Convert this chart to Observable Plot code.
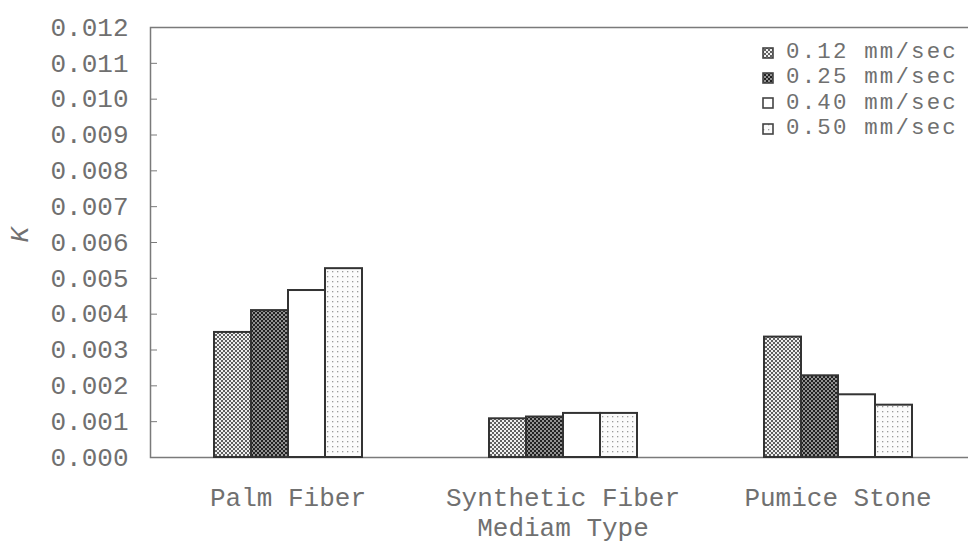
<!DOCTYPE html>
<html><head><meta charset="utf-8">
<script src="https://cdn.jsdelivr.net/npm/d3@7"></script>
<script src="https://cdn.jsdelivr.net/npm/@observablehq/plot@0.6"></script>
<style>
body{margin:0;background:#fff;}
#wrap{position:relative;width:968px;height:545px;overflow:hidden;}
#legend{position:absolute;left:762px;top:40px;font-family:"Liberation Mono",monospace;font-size:22.4px;letter-spacing:2.2px;line-height:25.4px;color:#707070;}
#legend .row{display:flex;align-items:center;height:25.4px;white-space:pre;}
#legend svg{margin-right:12px;}
</style>
</head><body>
<svg width="0" height="0" style="position:absolute">
<defs>
<pattern id="p012" width="4" height="4" patternUnits="userSpaceOnUse">
 <rect width="4" height="4" fill="#f0f0f0"/>
 <rect x="0" y="0" width="2" height="2" fill="#606060"/>
 <rect x="2" y="2" width="2" height="2" fill="#606060"/>
</pattern>
<pattern id="p025" width="4" height="4" patternUnits="userSpaceOnUse">
 <rect width="4" height="4" fill="#929292"/>
 <rect x="0" y="0" width="2" height="2" fill="#222222"/>
 <rect x="2" y="2" width="2" height="2" fill="#222222"/>
</pattern>
<pattern id="p040" width="4" height="4" patternUnits="userSpaceOnUse">
 <rect width="4" height="4" fill="#ffffff"/>
</pattern>
<pattern id="p050" width="5" height="5" patternUnits="userSpaceOnUse">
 <rect width="5" height="5" fill="#fbfbfb"/>
 <rect x="1" y="1" width="1.3" height="1.3" fill="#9a9a9a"/>
</pattern>
</defs>
</svg>
<div id="wrap"><div id="legend"></div></div>
<script>
const categories = ["Palm Fiber", "Synthetic Fiber", "Pumice Stone"];
const speeds = ["0.12 mm/sec", "0.25 mm/sec", "0.40 mm/sec", "0.50 mm/sec"];
const k012 = [0.00349, 0.00108, 0.00336];
const k025 = [0.00410, 0.00113, 0.00228];
const k040 = [0.00466, 0.00123, 0.00175];
const k050 = [0.00527, 0.00123, 0.00146];
const yTicks = [0, 0.001, 0.002, 0.003, 0.004, 0.005, 0.006, 0.007, 0.008, 0.009, 0.010, 0.011, 0.012];
const patterns = ["url(#p012)", "url(#p025)", "url(#p040)", "url(#p050)"];

const series = [k012, k025, k040, k050];
const data = [];
categories.forEach((c, i) => speeds.forEach((s, j) => data.push({cat: c, speed: s, k: series[j][i]})));

const chart = Plot.plot({
  width: 968, height: 545,
  marginLeft: 149, marginRight: -7.5, marginTop: 27, marginBottom: 88,
  style: {fontFamily: "Liberation Mono, monospace", fontSize: "26px", color: "#707070", background: "white"},
  fx: {domain: categories, paddingInner: 0, paddingOuter: 0, label: null},
  x: {domain: speeds, paddingInner: 0, paddingOuter: 1.7, axis: null},
  y: {domain: [0, 0.012], axis: null},
  color: {domain: speeds, range: patterns},
  marks: [
    Plot.frame({facet: "super", stroke: "#7a7a7a", strokeWidth: 1.5}),
    Plot.barY(data, {fx: "cat", x: "speed", y: "k", fill: "speed", stroke: "#333", strokeWidth: 2}),
    Plot.axisY({ticks: yTicks, tickFormat: d3.format(".3f"), tickSize: -7, tickPadding: 29, label: null, stroke: "#7a7a7a"}),
    Plot.axisFx({anchor: "bottom", tickSize: 0, tickPadding: 30, label: null}),
    Plot.text(["Mediam Type"], {facet: "super", text: d => d, frameAnchor: "bottom", lineAnchor: "middle", dy: 70}),
    Plot.text(["K"], {facet: "super", text: d => d, frameAnchor: "left", lineAnchor: "middle", rotate: -90, dx: -131, fontStyle: "italic"})
  ]
});
document.getElementById("wrap").prepend(chart);

const legend = document.getElementById("legend");
speeds.forEach((s, j) => {
  const row = document.createElement("div");
  row.className = "row";
  row.innerHTML = `<svg width="12" height="12"><rect x="1" y="1" width="10" height="10" fill="${patterns[j]}" stroke="#444" stroke-width="1.6"/></svg>${s}`;
  legend.appendChild(row);
});
</script>
</body></html>
